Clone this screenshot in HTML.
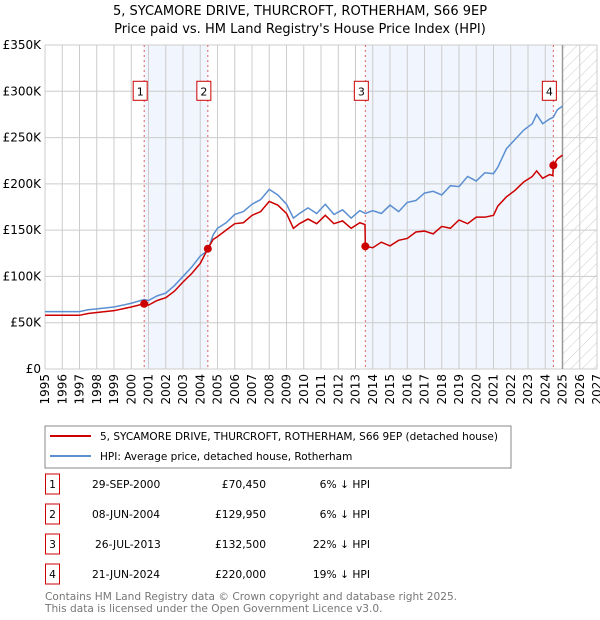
<!DOCTYPE html>
<html><head><meta charset="utf-8"><style>
body{margin:0;background:#fff;font-family:"DejaVu Sans","Liberation Sans",sans-serif;}
#wrap{position:relative;width:600px;height:620px;overflow:hidden;}
</style></head><body><div id="wrap">
<svg id="chart" width="600" height="620" xmlns="http://www.w3.org/2000/svg" font-family="DejaVu Sans, Liberation Sans, sans-serif">
<defs><pattern id="hatch" width="8" height="8" patternUnits="userSpaceOnUse" patternTransform="rotate(45)"><line x1="0" y1="0" x2="0" y2="8" stroke="#ccc" stroke-width="1"/></pattern></defs>
<text x="300" y="15" text-anchor="middle" font-size="13">5, SYCAMORE DRIVE, THURCROFT, ROTHERHAM, S66 9EP</text>
<text x="300" y="33" text-anchor="middle" font-size="13">Price paid vs. HM Land Registry's House Price Index (HPI)</text>
<g id="plot"></g>
<rect x="45" y="426" width="466" height="42" fill="#fff" stroke="#888"/>
<line x1="50" y1="436" x2="91" y2="436" stroke="#cc0000" stroke-width="2"/>
<text x="100" y="440" font-size="10.5">5, SYCAMORE DRIVE, THURCROFT, ROTHERHAM, S66 9EP (detached house)</text>
<line x1="50" y1="456" x2="91" y2="456" stroke="#5b8fd1" stroke-width="2"/>
<text x="100" y="460" font-size="10.5">HPI: Average price, detached house, Rotherham</text>
<g id="table" font-size="10.7"></g>
<text x="45" y="600" font-size="10.6" fill="#777">Contains HM Land Registry data © Crown copyright and database right 2025.</text>
<text x="45" y="612" font-size="10.6" fill="#777">This data is licensed under the Open Government Licence v3.0.</text>
</svg></div>
<script>
const hpiYears=[1995,1996,1997,1997.5,1998,1999,2000,2000.75,2001,2001.5,2002,2002.5,2003,2003.5,2004,2004.44,2004.75,2005,2005.5,2006,2006.5,2007,2007.5,2008,2008.5,2009,2009.4,2009.75,2010.25,2010.75,2011.25,2011.75,2012.25,2012.75,2013.25,2013.57,2014,2014.5,2015,2015.5,2016,2016.5,2017,2017.5,2018,2018.5,2019,2019.5,2020,2020.5,2021,2021.25,2021.75,2022.25,2022.75,2023.25,2023.5,2023.85,2024.25,2024.47,2024.7,2025];
const hpiValues=[62,62,62,64,65,67,71,75,74,79,82,90,100,110,122,128,145,152,158,167,170,178,183,194,188,178,163,168,174,168,178,167,172,163,171,168,171,168,177,170,180,182,190,192,188,198,197,208,203,212,211,218,238,248,258,265,275,265,270,272,280,284];
const redYears=[1995,1996,1997,1997.5,1998,1999,2000,2000.75,2001,2001.5,2002,2002.5,2003,2003.5,2004,2004.44,2004.75,2005,2005.5,2006,2006.5,2007,2007.5,2008,2008.5,2009,2009.4,2009.75,2010.25,2010.75,2011.25,2011.75,2012.25,2012.75,2013.25,2013.55,2013.57,2014,2014.5,2015,2015.5,2016,2016.5,2017,2017.5,2018,2018.5,2019,2019.5,2020,2020.5,2021,2021.25,2021.75,2022.25,2022.75,2023.25,2023.5,2023.85,2024.25,2024.44,2024.47,2024.7,2025];
const redValues=[58,58,58,60,61,63,67,70.45,69,74,77,84,94,103,114,130,140,143,150,157,158,166,170,181,177,168,152,157,162,157,166,157,160,152,158,156,132.5,131,137,133,139,141,148,149,146,154,152,161,157,164,164,166,176,186,193,202,208,214,206,210,209,220,227,231];
const saleLabels=["1","2","3","4"];
const saleDates=[2000.75,2004.44,2013.57,2024.47];
const salePrices=[70.45,129.95,132.5,220];
const saleDateText=["29-SEP-2000","08-JUN-2004","26-JUL-2013","21-JUN-2024"];
const salePriceText=["£70,450","£129,950","£132,500","£220,000"];
const saleHpiText=["6% ↓ HPI","6% ↓ HPI","22% ↓ HPI","19% ↓ HPI"];
const yTicks=[0,50,100,150,200,250,300,350];
const yTickLabels=["£0","£50K","£100K","£150K","£200K","£250K","£300K","£350K"];
const xTicks=[1995,1996,1997,1998,1999,2000,2001,2002,2003,2004,2005,2006,2007,2008,2009,2010,2011,2012,2013,2014,2015,2016,2017,2018,2019,2020,2021,2022,2023,2024,2025,2026,2027];
const forecastStart=2025;

const X0=45,X1=597,Y0=369,Y1=45;
const xs=t=>X0+(t-1995)/(2027-1995)*(X1-X0);
const ys=v=>Y0-v/350*(Y0-Y1);
const NS="http://www.w3.org/2000/svg";
const g=document.getElementById('plot');
function mk(tag,attrs,parent){const e=document.createElementNS(NS,tag);for(const k in attrs)e.setAttribute(k,attrs[k]);(parent||g).appendChild(e);return e;}
let e;
e=mk('rect',{x:X0,y:Y1,width:X1-X0,height:Y0-Y1,fill:'#fff'});


[[0,1],[2,3]].forEach(([a,b])=>{
 e=mk('rect',{x:xs(saleDates[a]),y:Y1,width:xs(saleDates[b])-xs(saleDates[a]),height:Y0-Y1,fill:'#eef3fc',opacity:0.8});
 
 
});
e=mk('rect',{x:xs(forecastStart),y:Y1,width:X1-xs(forecastStart),height:Y0-Y1,fill:'url(#hatch)'});


xTicks.forEach((t,i)=>{
 e=mk('line',{x1:xs(t),y1:Y1,x2:xs(t),y2:Y0,stroke:'#ccc','stroke-width':1});
 
 
 e=mk('text',{x:0,y:0,'font-size':12,'text-anchor':'end',transform:`translate(${xs(t)+4},${Y0+5}) rotate(-90)`});
 e.textContent=t;
 
 
});
yTicks.forEach((v,i)=>{
 e=mk('line',{x1:X0,y1:ys(v),x2:X1,y2:ys(v),stroke:'#ccc','stroke-width':1});
 
 
 e=mk('text',{x:X0-4,y:ys(v)+4,'font-size':12,'text-anchor':'end'});
 e.textContent=yTickLabels[i];
 
 
});
e=mk('line',{x1:xs(forecastStart),y1:Y1,x2:xs(forecastStart),y2:Y0,stroke:'#999','stroke-width':1.5});


saleDates.forEach((d,i)=>{
 e=mk('line',{x1:xs(d),y1:Y1,x2:xs(d),y2:Y0,stroke:'#e06060','stroke-width':1,'stroke-dasharray':'2,3'});
 
 
});
e=mk('polyline',{points:hpiYears.map((t,i)=>xs(t)+','+ys(hpiValues[i])).join(' '),fill:'none',stroke:'#5b8fd1','stroke-width':1.5});


e=mk('polyline',{points:redYears.map((t,i)=>xs(t)+','+ys(redValues[i])).join(' '),fill:'none',stroke:'#cc0000','stroke-width':1.5});


saleDates.forEach((d,i)=>{
 e=mk('circle',{cx:xs(d),cy:ys(salePrices[i]),r:4,fill:'#cc0000'});
 
 
 const bx=xs(d)-4;
 e=mk('rect',{x:bx-7,y:ys(300)-10,width:14,height:19,fill:'#fff',stroke:'#cc0000','stroke-width':1});
 
 
 e=mk('text',{x:bx,y:ys(300)+4,'font-size':11,'text-anchor':'middle'});
 e.textContent=saleLabels[i];
 
 
});
const tb=document.getElementById('table');
saleLabels.forEach((l,i)=>{
 const cy=484+i*30;
 e=mk('rect',{x:45.5,y:cy-10,width:14,height:20,fill:'#fff',stroke:'#cc0000'},tb);
 
 
 e=mk('text',{x:52.5,y:cy+4,'text-anchor':'middle'},tb);e.textContent=l;
 
 
 e=mk('text',{x:92+(i==2?3:0),y:cy+4},tb);e.textContent=saleDateText[i];
 
 
 e=mk('text',{x:266,y:cy+4,'text-anchor':'end'},tb);e.textContent=salePriceText[i];
 
 
 e=mk('text',{x:370,y:cy+4,'text-anchor':'end'},tb);e.textContent=saleHpiText[i];
 
 
});
</script></body></html>
